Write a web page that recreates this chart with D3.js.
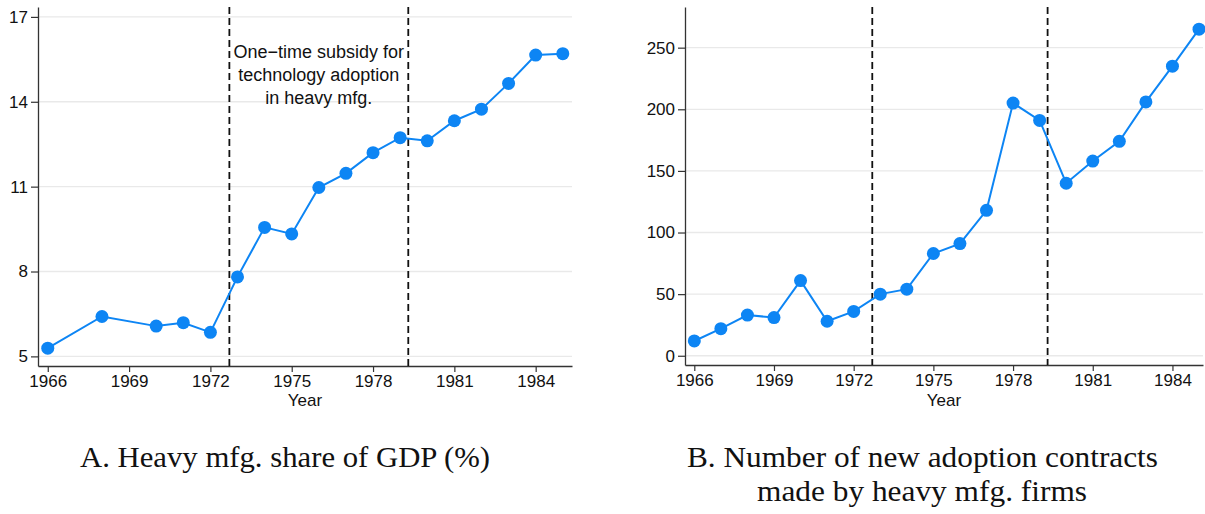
<!DOCTYPE html>
<html>
<head>
<meta charset="utf-8">
<script src="https://cdn.jsdelivr.net/npm/d3@7"></script>
<style>
  body { margin: 0; background: #fff; }
  .caption { font-family: "Liberation Serif", "DejaVu Serif", serif; font-size: 29px; fill: #111; }
</style>
</head>
<body>
<div id="chart"></div>
<script>
// Panel A: heavy mfg. share of GDP (%)
const yearsA = [1966, 1968, 1970, 1971, 1972, 1973, 1974, 1975, 1976, 1977,
                1978, 1979, 1980, 1981, 1982, 1983, 1984, 1985];
const shareGDP = [5.29, 6.41, 6.07, 6.19, 5.85, 7.81, 9.56, 9.33, 10.97, 11.47,
                  12.2, 12.73, 12.62, 13.33, 13.74, 14.65, 15.65, 15.7];

// Panel B: number of new adoption contracts
const yearsB = [1966, 1967, 1968, 1969, 1970, 1971, 1972, 1973, 1974, 1975,
                1976, 1977, 1978, 1979, 1980, 1981, 1982, 1983, 1984, 1985];
const contracts = [12, 22, 33, 31, 61, 28, 36, 50, 54, 83,
                   91, 118, 205, 191, 140, 158, 174, 206, 235, 265];

const xTicks = [1966, 1969, 1972, 1975, 1978, 1981, 1984];
const yTicksA = [5, 8, 11, 14, 17];
const yTicksB = [0, 50, 100, 150, 200, 250];
const policyYears = [1972.7, 1979.3];
const noteLines = ["One\u2212time subsidy for", "technology adoption", "in heavy mfg."];

const svg = d3.select("#chart").append("svg")
  .attr("width", 1205)
  .attr("height", 514);

const blue = "#0d85f4";
const sans = "Liberation Sans, Arial, sans-serif";

function drawPanel(cfg) {
  const x = d3.scaleLinear().domain(cfg.xDomain).range([cfg.left, cfg.right]);
  const y = d3.scaleLinear().domain(cfg.yDomain).range([cfg.bottom, cfg.top]);

  // gridlines
  svg.append("g").selectAll("line")
    .data(cfg.yTicks)
    .enter().append("line")
    .attr("x1", cfg.left).attr("x2", cfg.right)
    .attr("y1", d => y(d)).attr("y2", d => y(d))
    .attr("stroke", "#e9e9e9")
    .attr("stroke-width", 1.3);

  // axes
  const yAxis = svg.append("g")
    .attr("transform", `translate(${cfg.left},0)`)
    .call(d3.axisLeft(y).tickValues(cfg.yTicks).tickSize(7).tickSizeOuter(0).tickPadding(3));
  const xAxis = svg.append("g")
    .attr("transform", `translate(0,${cfg.bottom})`)
    .call(d3.axisBottom(x).tickValues(xTicks).tickFormat(d3.format("d")).tickSize(6).tickSizeOuter(0).tickPadding(3));
  [yAxis, xAxis].forEach(a => {
    a.select(".domain").attr("stroke", "#333").attr("stroke-width", 1.3);
    a.selectAll(".tick line").attr("stroke", "#333").attr("stroke-width", 1.2);
    a.selectAll(".tick text")
      .style("font-family", sans)
      .style("font-size", "17px")
      .attr("fill", "#111");
  });

  svg.append("text")
    .attr("x", (cfg.left + cfg.right) / 2)
    .attr("y", 406)
    .attr("text-anchor", "middle")
    .style("font-family", sans)
    .style("font-size", "17px")
    .attr("fill", "#111")
    .text("Year");

  // policy window
  svg.append("g").selectAll("line")
    .data(policyYears)
    .enter().append("line")
    .attr("x1", d => x(d)).attr("x2", d => x(d))
    .attr("y1", cfg.top).attr("y2", cfg.bottom)
    .attr("stroke", "#111")
    .attr("stroke-width", 1.8)
    .attr("stroke-dasharray", "7,4");

  // series
  const line = d3.line()
    .x((d, i) => x(cfg.years[i]))
    .y(d => y(d));

  svg.append("path")
    .datum(cfg.values)
    .attr("d", line)
    .attr("fill", "none")
    .attr("stroke", blue)
    .attr("stroke-width", 2);

  svg.append("g").selectAll("circle")
    .data(cfg.values)
    .enter().append("circle")
    .attr("cx", (d, i) => x(cfg.years[i]))
    .attr("cy", d => y(d))
    .attr("r", 6.5)
    .attr("fill", blue);

  return x;
}

const xA = drawPanel({
  left: 38, right: 572, top: 7, bottom: 366,
  xDomain: [1965.64, 1985.34], yDomain: [4.66, 17.35],
  yTicks: yTicksA, years: yearsA, values: shareGDP
});

drawPanel({
  left: 685, right: 1203, top: 7, bottom: 365,
  xDomain: [1965.65, 1985.15], yDomain: [-7.5, 283],
  yTicks: yTicksB, years: yearsB, values: contracts
});

// annotation between the dashed lines in panel A
const noteX = (xA(policyYears[0]) + xA(policyYears[1])) / 2;
svg.append("g").selectAll("text")
  .data(noteLines)
  .enter().append("text")
  .attr("x", noteX)
  .attr("y", (d, i) => 57.5 + i * 23.4)
  .attr("text-anchor", "middle")
  .style("font-family", sans)
  .style("font-size", "18px")
  .attr("fill", "#111")
  .text(d => d);

// captions
const captions = [
  { text: "A. Heavy mfg. share of GDP (%)", x: 285, y: 467, len: 410 },
  { text: "B. Number of new adoption contracts", x: 922.5, y: 467, len: 471 },
  { text: "made by heavy mfg. firms", x: 922, y: 501, len: 330 }
];
svg.append("g").selectAll("text")
  .data(captions)
  .enter().append("text")
  .attr("class", "caption")
  .attr("x", d => d.x)
  .attr("y", d => d.y)
  .attr("text-anchor", "middle")
  .attr("textLength", d => d.len)
  .attr("lengthAdjust", "spacingAndGlyphs")
  .text(d => d.text);
</script>
</body>
</html>
